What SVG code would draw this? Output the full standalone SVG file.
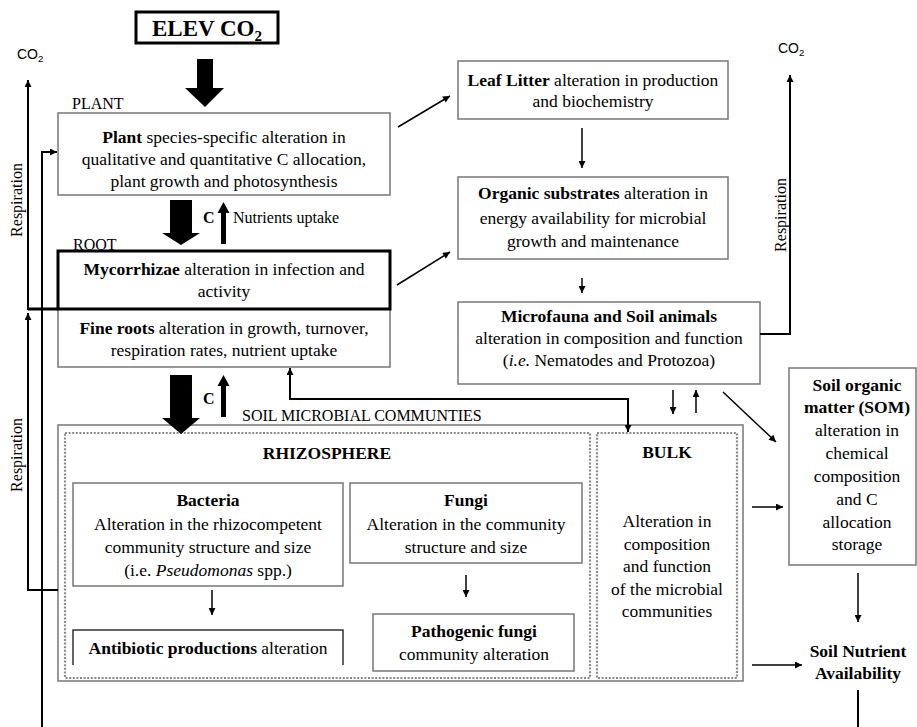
<svg xmlns="http://www.w3.org/2000/svg" width="917" height="727" viewBox="0 0 917 727">
<defs>
<marker id="ah" viewBox="0 0 10 10" refX="10" refY="5" markerWidth="8" markerHeight="7" orient="auto-start-reverse" markerUnits="userSpaceOnUse"><path d="M0,0 L10,5 L0,10 z" fill="#000"/></marker>
</defs>
<style>
text{font-family:"Liberation Serif","Times New Roman",serif;fill:#000}
.t{font-size:17.5px;text-anchor:middle}
.b{font-weight:bold}
.lbl{font-size:16px}
.co2{font-family:"Liberation Sans",Arial,sans-serif;font-size:14px}
.box{fill:#fff;stroke:#777;stroke-width:1.5}
.dot{fill:none;stroke:#8a8a8a;stroke-width:2.2;stroke-dasharray:2 1.6}
.ln{fill:none;stroke:#000;stroke-width:2}
.ar{fill:none;stroke:#000;stroke-width:1.5;marker-end:url(#ah)}
.blk{fill:#000}
</style>
<rect width="917" height="727" fill="#fff"/>

<g id="elev">
<rect x="136" y="12" width="142" height="31" fill="#fff" stroke="#000" stroke-width="3"/>
<text x="207" y="36" text-anchor="middle" font-size="23" font-weight="bold">ELEV CO<tspan font-size="15" dy="5">2</tspan></text>
</g>

<g id="co2-left"><text class="co2" x="17" y="59">CO<tspan font-size="9.5" dy="3">2</tspan></text></g>
<g id="co2-right"><text class="co2" x="778" y="53">CO<tspan font-size="9.5" dy="3">2</tspan></text></g>

<g id="labels">
<text class="lbl" x="72" y="109">PLANT</text>
<text class="lbl" x="73" y="250">ROOT</text>
<text class="lbl" x="242" y="421">SOIL MICROBIAL COMMUNTIES</text>
<text class="lbl" x="203" y="223" font-weight="bold">C</text>
<text class="lbl" x="233" y="223">Nutrients uptake</text>
<text class="lbl" x="203" y="404" font-weight="bold">C</text>
<text class="lbl" transform="translate(22,200) rotate(-90)" text-anchor="middle">Respiration</text>
<text class="lbl" transform="translate(22,455) rotate(-90)" text-anchor="middle">Respiration</text>
<text class="lbl" transform="translate(786,215) rotate(-90)" text-anchor="middle">Respiration</text>
</g>

<g id="plant">
<rect class="box" x="58" y="113" width="332" height="82"/>
<text class="t" x="224" y="143"><tspan class="b">Plant</tspan> species-specific alteration in</text>
<text class="t" x="224" y="165">qualitative and quantitative  C allocation,</text>
<text class="t" x="224" y="187">plant growth and photosynthesis</text>
</g>

<g id="fineroots">
<rect class="box" x="58" y="309" width="332" height="58"/>
<text class="t" x="224" y="334"><tspan class="b">Fine roots</tspan> alteration in growth, turnover,</text>
<text class="t" x="224" y="356">respiration rates, nutrient uptake</text>
</g>

<g id="mycorrhizae">
<rect x="58" y="251" width="332" height="58" fill="#fff" stroke="#000" stroke-width="3"/>
<text class="t" x="224" y="275"><tspan class="b">Mycorrhizae</tspan> alteration in infection and</text>
<text class="t" x="224" y="297">activity</text>
</g>

<g id="leaflitter">
<rect class="box" x="458" y="61" width="270" height="58"/>
<text class="t" x="593" y="86"><tspan class="b">Leaf Litter</tspan> alteration in production</text>
<text class="t" x="593" y="107">and biochemistry</text>
</g>

<g id="organic">
<rect class="box" x="458" y="177" width="270" height="82"/>
<text class="t" x="593" y="199"><tspan class="b">Organic substrates</tspan> alteration in</text>
<text class="t" x="593" y="224">energy availability for microbial</text>
<text class="t" x="593" y="247">growth and maintenance</text>
</g>

<g id="microfauna">
<rect class="box" x="458" y="302" width="302" height="82" stroke="#333"/>
<text class="t b" x="609" y="322">Microfauna and Soil animals</text>
<text class="t" x="609" y="344">alteration in composition and function</text>
<text class="t" x="609" y="366">(<tspan font-style="italic">i.e.</tspan> Nematodes and Protozoa)</text>
</g>

<g id="som">
<rect class="box" x="789" y="368" width="127" height="197"/>
<text class="t b" x="857" y="391">Soil organic</text>
<text class="t b" x="857" y="413">matter (SOM)</text>
<text class="t" x="857" y="436">alteration in</text>
<text class="t" x="857" y="459">chemical</text>
<text class="t" x="857" y="482">composition</text>
<text class="t" x="857" y="505">and C</text>
<text class="t" x="857" y="528">allocation</text>
<text class="t" x="857" y="550">storage</text>
</g>

<g id="nutrient">
<text class="t b" x="858" y="657">Soil Nutrient</text>
<text class="t b" x="858" y="679">Availability</text>
</g>

<g id="soilmicrobial">
<rect class="box" x="58" y="425" width="685" height="256"/>
</g>

<g id="rhizosphere">
<rect class="dot" x="65" y="433" width="525" height="245"/>
<text class="t b" x="327" y="459">RHIZOSPHERE</text>
</g>

<g id="bulk">
<rect class="dot" x="597" y="433" width="140" height="245"/>
<text class="t b" x="667" y="458">BULK</text>
<text class="t" x="667" y="527">Alteration in</text>
<text class="t" x="667" y="550">composition</text>
<text class="t" x="667" y="572">and function</text>
<text class="t" x="667" y="595">of the microbial</text>
<text class="t" x="667" y="617">communities</text>
</g>

<g id="bacteria">
<rect class="box" x="73" y="483" width="270" height="103"/>
<text class="t b" x="208" y="506">Bacteria</text>
<text class="t" x="208" y="530">Alteration in the rhizocompetent</text>
<text class="t" x="208" y="553">community structure and size</text>
<text class="t" x="208" y="576">(i.e. <tspan font-style="italic">Pseudomonas</tspan> spp.)</text>
</g>

<g id="fungi">
<rect class="box" x="350" y="483" width="232" height="80" stroke="#555"/>
<text class="t b" x="466" y="506">Fungi</text>
<text class="t" x="466" y="530">Alteration in the community</text>
<text class="t" x="466" y="553">structure and size</text>
</g>

<g id="antibiotic">
<path d="M73,665 V630 H343 V665" fill="#fff" stroke="#333" stroke-width="1.5"/>
<text class="t" x="208" y="654"><tspan class="b">Antibiotic productions</tspan> alteration</text>
</g>

<g id="pathogenic">
<rect class="box" x="373" y="614" width="201" height="57" stroke="#222"/>
<text class="t b" x="474" y="637">Pathogenic fungi</text>
<text class="t" x="474" y="660">community alteration</text>
</g>

<g id="connectors">
<polygon class="blk" points="197,59 213,59 213,88 224,88 205,107 185,88 197,88"/>
<polygon class="blk" points="170,200 192,200 192,233 200,233 181,245 162,233 170,233"/>
<polygon class="blk" points="170,375 192,375 192,418 200,418 181,434 162,418 170,418"/>
<polygon class="blk" points="221,244 226,244 226,213 229.5,213 223.5,202 217.5,213 221,213"/>
<polygon class="blk" points="221,417 226,417 226,386 229.5,386 223.5,375 217.5,386 221,386"/>

<path d="M28,309 H58" stroke="#000" stroke-width="3" fill="none"/>
<path class="ln" d="M28,310 V80" marker-end="url(#ah)"/>
<path class="ln" d="M58,590 H28 V313" marker-end="url(#ah)"/>
<path class="ln" d="M42,727 V152 H57" marker-end="url(#ah)"/>
<path class="ln" d="M760,334 H790 V75" marker-end="url(#ah)"/>
<path class="ln" d="M858,690 V727"/>
<path class="ln" d="M628,432 V399 H290 V368" stroke-width="2.5" marker-start="url(#ah)" marker-end="url(#ah)"/>

<path class="ar" d="M398,127 L450,96" stroke-width="2"/>
<path class="ar" d="M397,285 L450,252" stroke-width="2"/>
<path class="ar" d="M723,392 L776,442"/>
<path class="ar" d="M582,128 V168"/>
<path class="ar" d="M582,278 V293"/>
<path class="ar" d="M673,390 V414"/>
<path class="ar" d="M696,413 V390"/>
<path class="ar" d="M212,590 V615"/>
<path class="ar" d="M466,575 V597"/>
<path class="ar" d="M752,507 H783" stroke-width="2"/>
<path class="ar" d="M752,665 H802"/>
<path class="ar" d="M858,573 V622"/>
</g>
</svg>
